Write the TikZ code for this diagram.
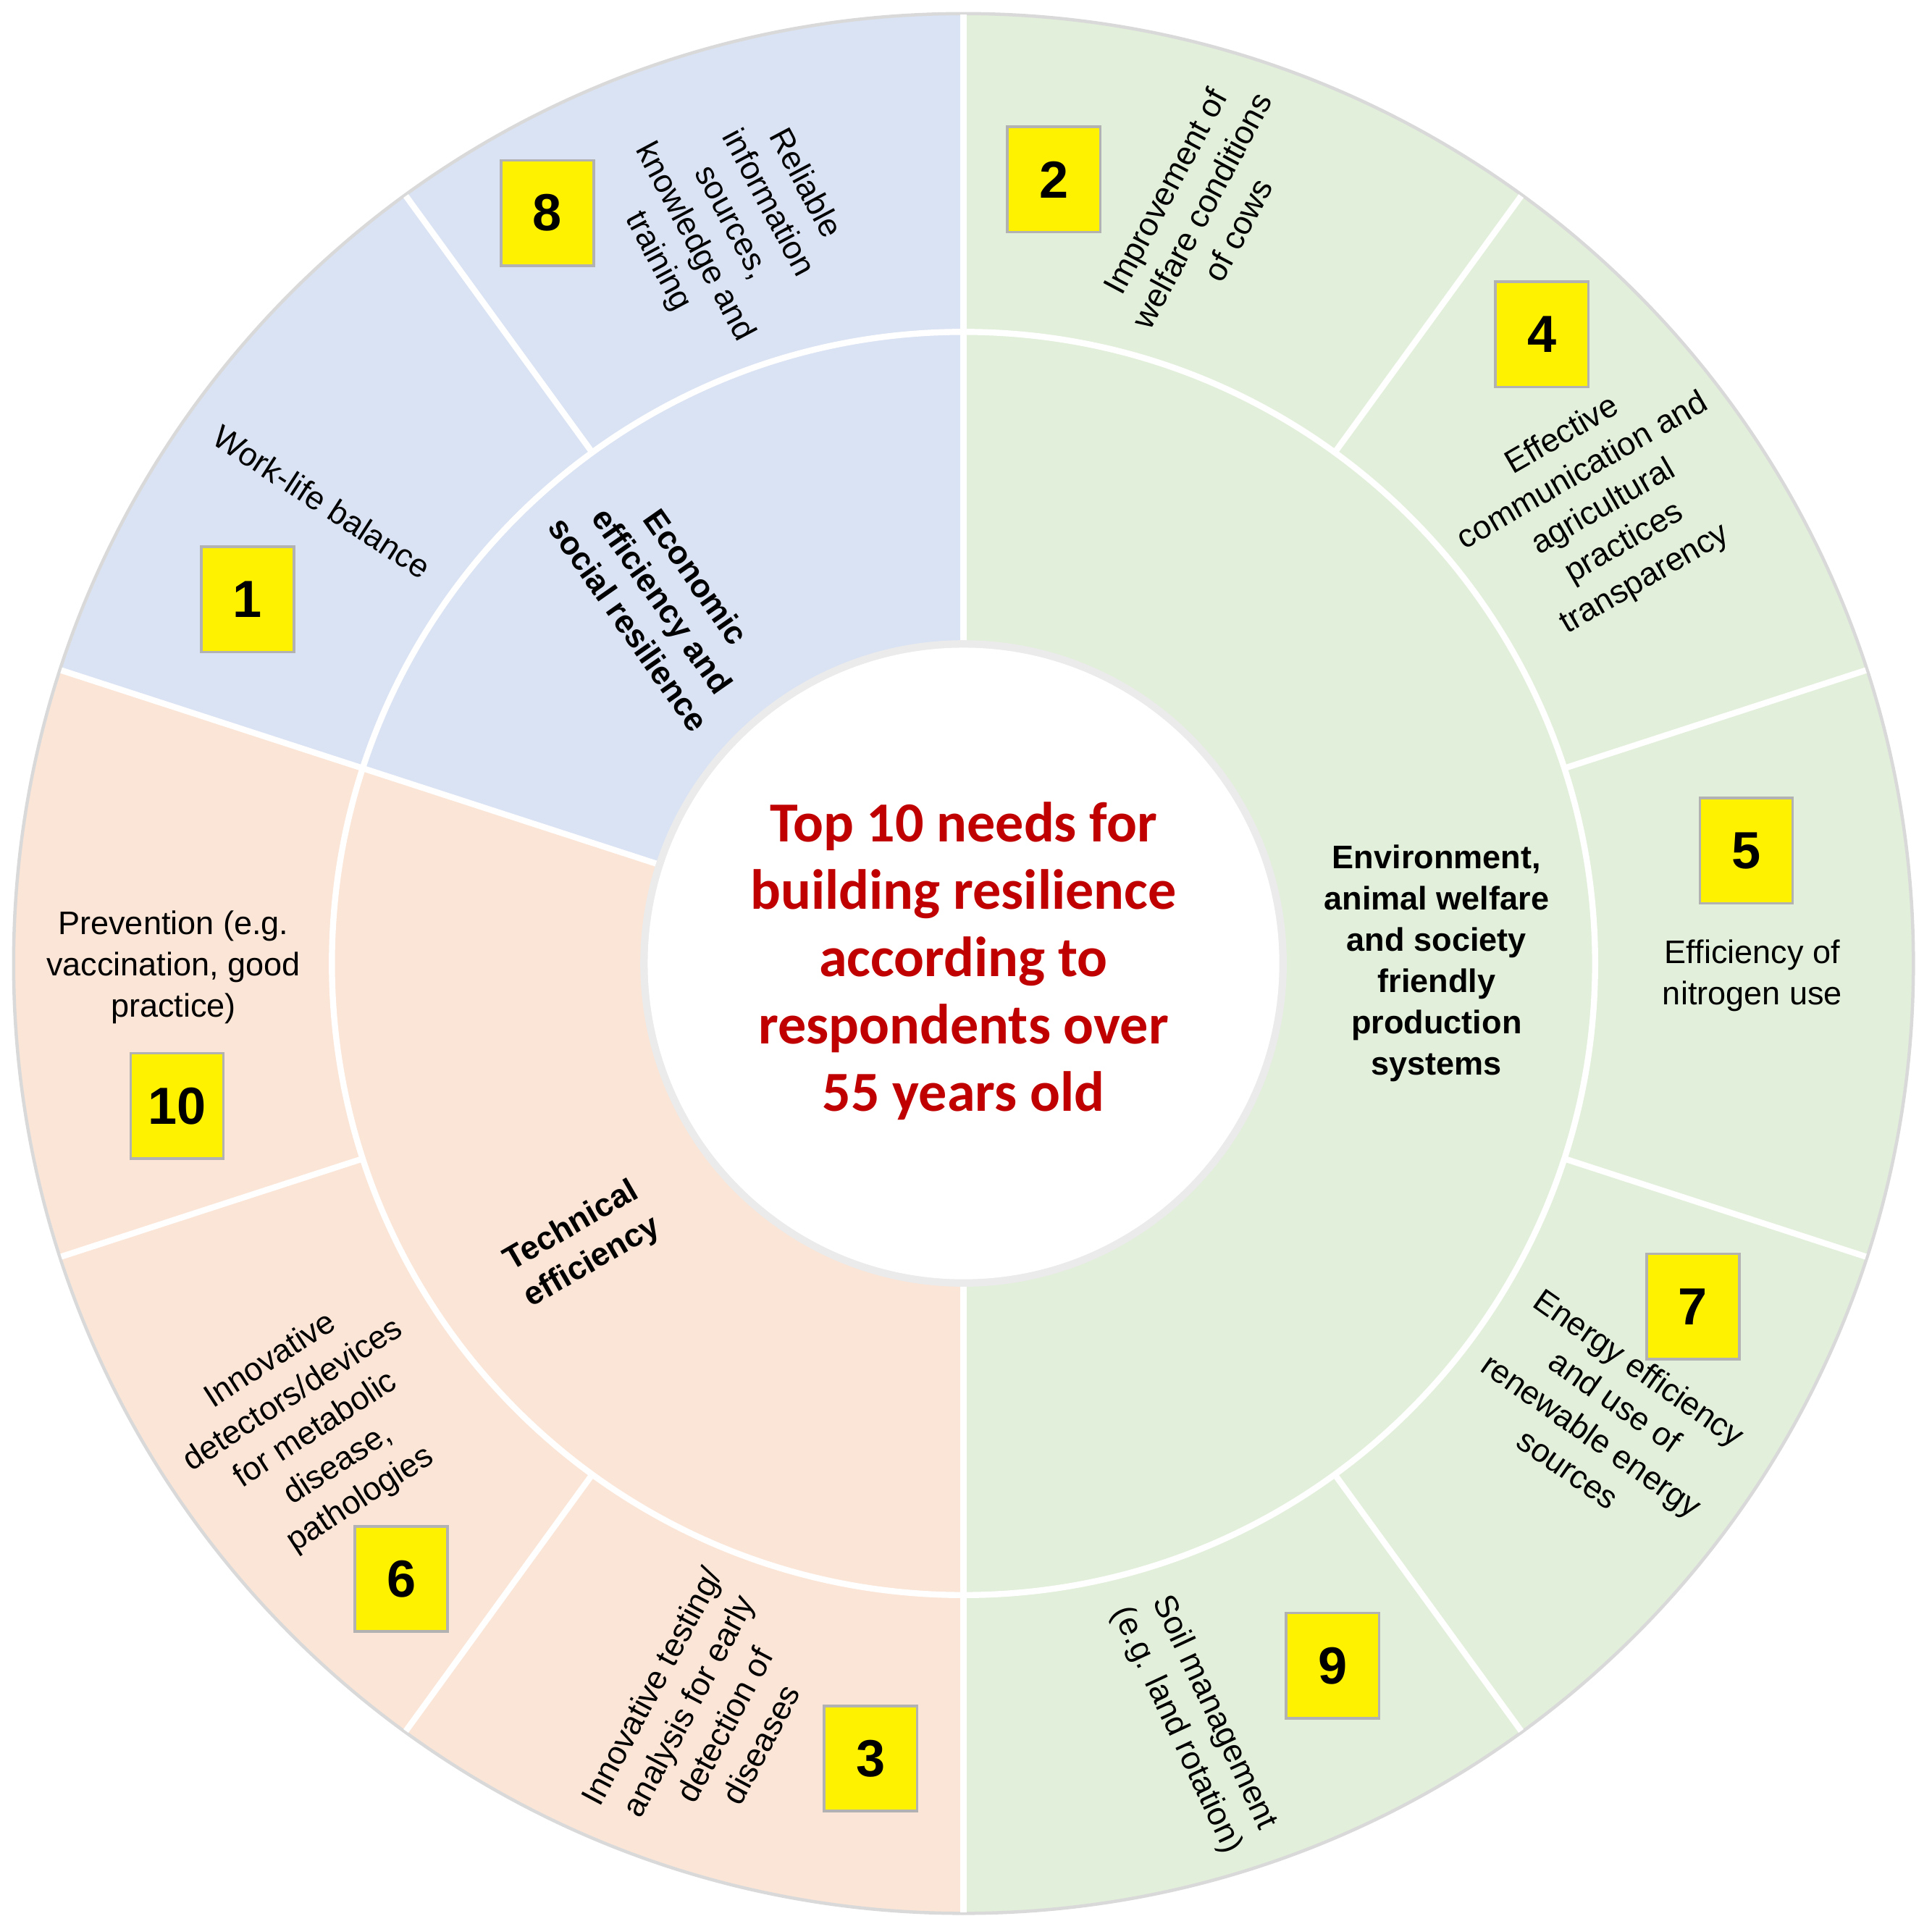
\documentclass[tikz,border=0pt]{standalone}
\usepackage{fontspec}
\setmainfont{Liberation Sans}
\newfontfamily\titlefont{Carlito}
\begin{document}
\begin{tikzpicture}[x=0.02cm,y=0.02cm,
  sep/.style={white,line width=2.8pt},
  num/.style={draw=black!30,line width=1.2pt,fill=yellow,minimum width=1.5cm,minimum height=1.7cm,font=\fontsize{24}{28}\selectfont\bfseries},
  lab/.style={align=center,font=\fontsize{15}{19}\selectfont},
  blab/.style={align=center,font=\fontsize{15}{19}\selectfont\bfseries}]
\definecolor{cblue}{HTML}{DAE3F3}
\definecolor{cgreen}{HTML}{E2EFDA}
\definecolor{corange}{HTML}{FBE5D6}
\definecolor{cred}{HTML}{C00000}
\useasboundingbox (-778,-769) rectangle (782,778);
% sectors
\fill[cblue] (0,0) -- (90:766) arc[start angle=90,end angle=162,radius=766] -- cycle;
\fill[corange] (0,0) -- (162:766) arc[start angle=162,end angle=270,radius=766] -- cycle;
\fill[cgreen] (0,0) -- (-90:766) arc[start angle=-90,end angle=90,radius=766] -- cycle;
\draw[black!15,line width=1.5pt] (0,0) circle[radius=767];
% separators
\foreach \a in {18,54,126,198,234,306,342} \draw[sep] (\a:510) -- (\a:766);
\foreach \a in {90,162,270} \draw[sep] (\a:255) -- (\a:766);
\draw[sep] (0,0) circle[radius=510];
\fill[black!8] (0,0) circle[radius=261];
\fill[white] (0,0) circle[radius=255];
% title
\node[align=center,text=cred,font=\titlefont\fontsize{26}{31}\selectfont\bfseries] (title) at (0,2) {Top 10 needs for\\building resilience\\according to\\respondents over\\55 years old};
% inner labels
\node[blab,rotate=-55] (econ) at (-243,293) {Economic\\efficiency and\\social resilience};
\node[blab,rotate=30] (tech) at (-308,-227) {Technical\\efficiency};
\node[blab] (env) at (382,0) {Environment,\\animal welfare\\and society\\friendly\\production\\systems};
% outer labels
\node[num] (n8) at (-336,606) {8};
\node[lab,rotate=-62] (t8) at (-188,598) {Reliable\\information\\sources,\\knowledge and\\training};
\node[num] (n2) at (73,633) {2};
\node[lab,rotate=62] (t2) at (192,608) {Improvement of\\welfare conditions\\of cows};
\node[num] (n4) at (467,508) {4};
\node[lab,rotate=30] (t4) at (517,368) {Effective\\communication and\\agricultural\\practices\\transparency};
\node[num] (n5) at (632,91) {5};
\node[lab] (t5) at (637,-10) {Efficiency of\\nitrogen use};
\node[num] (n7) at (589,-277) {7};
\node[lab,rotate=-35] (t7) at (517,-367) {Energy efficiency\\and use of\\renewable energy\\sources};
\node[num] (n9) at (298,-567) {9};
\node[lab,rotate=-65] (t9) at (187,-612) {Soil management\\(e.g. land rotation)};
\node[num] (n3) at (-75,-642) {3};
\node[lab,rotate=62] (t3) at (-208,-607) {Innovative testing/\\analysis for early\\detection of\\diseases};
\node[num] (n6) at (-454,-497) {6};
\node[lab,rotate=33] (t6) at (-523,-377) {Innovative\\detectors/devices\\for metabolic\\disease,\\pathologies};
\node[num] (n10) at (-635,-115) {10};
\node[lab] (t10) at (-638,-3) {Prevention (e.g.\\vaccination, good\\practice)};
\node[num] (n1) at (-578,294) {1};
\node[lab,rotate=-33] (t1) at (-518,373) {Work-life balance};
\end{tikzpicture}
\end{document}
